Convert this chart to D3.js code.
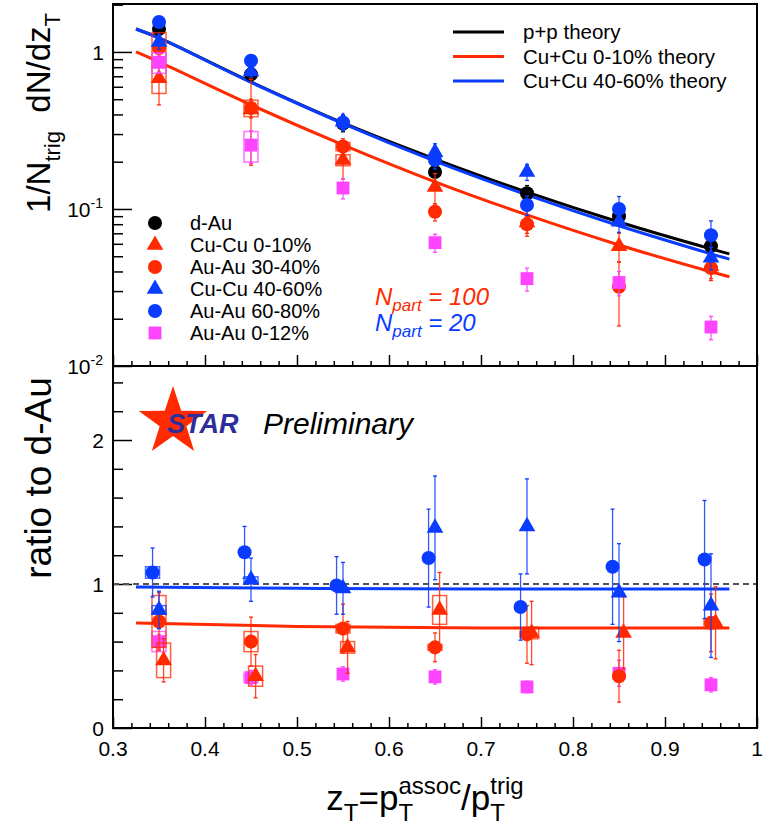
<!DOCTYPE html>
<meta charset="utf-8">
<script src="https://d3js.org/d3.v7.min.js"></script>
<style>
  body { margin: 0; background: #fff; }
  text { font-family: "Liberation Sans", Arial, Helvetica, sans-serif; }
</style>
<div id="chart"></div>
<script>
// z_T bins
const zT = [0.35, 0.45, 0.55, 0.65, 0.75, 0.85, 0.95];

// top panel: 1/Ntrig dN/dzT
const dAu      = [1.40, 0.72, 0.35, 0.172, 0.126, 0.090, 0.058];
const cuCu010  = [0.68, 0.43, 0.205, 0.138, 0.082, 0.058, 0.043];
const auAu3040 = [1.06, 0.44, 0.25, 0.096, 0.080, 0.032, 0.042];
const cuCu4060 = [1.16, 0.75, 0.36, 0.23, 0.172, 0.083, 0.049];
const auAu6080 = [1.55, 0.88, 0.355, 0.205, 0.106, 0.100, 0.068];
const auAu012  = [0.86, 0.255, 0.136, 0.061, 0.036, 0.034, 0.0177];

const dAuErr      = [0.10, 0.06, 0.04, 0.03, 0.015, 0.01, 0.006];
const cuCu010Err  = [0.22, 0.24, 0.05, 0.03, 0.015, 0.012, 0.008];
const auAu3040Err = [0.12, 0.06, 0.03, 0.012, 0.01, 0.014, 0.006];
const cuCu4060Err = [0.12, 0.06, 0.04, 0.03, 0.02, 0.012, 0.008];
const auAu6080Err = [0.12, 0.07, 0.04, 0.025, 0.015, 0.02, 0.016];
const auAu012Err  = [0.12, 0.06, 0.02, 0.008, 0.006, 0.006, 0.003];

// relative systematic box half-heights (0 = no box)
const cuCu010Sys  = [0.20, 0, 0.08, 0, 0, 0, 0];
const auAu3040Sys = [0.25, 0.12, 0.06, 0, 0, 0, 0];
const auAu012Sys  = [0.15, 0.22, 0, 0, 0, 0, 0];

// theory curves
const thX        = [0.325, 0.35, 0.45, 0.55, 0.65, 0.75, 0.85, 0.95, 0.97];
const ppTh       = [1.40, 1.228, 0.644, 0.353, 0.208, 0.128, 0.0826, 0.0557, 0.0518];
const cuCu010Th  = [1.0, 0.864, 0.460, 0.256, 0.149, 0.0917, 0.0590, 0.0398, 0.0370];
const cuCu4060Th = [1.40, 1.228, 0.640, 0.350, 0.202, 0.123, 0.0782, 0.0518, 0.0479];

// bottom panel: ratio to d-Au
const cuCu010R  = [0.47, 0.36, 0.56, 0.82, 0.66, 0.66, 0.73];
const auAu3040R = [0.74, 0.60, 0.69, 0.56, 0.65, 0.36, 0.73];
const cuCu4060R = [0.82, 1.03, 0.97, 1.39, 1.40, 0.94, 0.85];
const auAu6080R = [1.08, 1.22, 0.99, 1.18, 0.84, 1.12, 1.17];
const auAu012R  = [0.60, 0.35, 0.375, 0.355, 0.285, 0.38, 0.30];

const cuCu010RErr  = [0.15, 0.15, 0.18, 0.26, 0.22, 0.25, 0.25];
const auAu3040RErr = [0.20, 0.17, 0.17, 0.10, 0.20, 0.18, 0.20];
const cuCu4060RErr = [0.13, 0.15, 0.18, 0.36, 0.33, 0.34, 0.36];
const auAu6080RErr = [0.17, 0.18, 0.20, 0.34, 0.23, 0.40, 0.41];
const auAu012RErr  = [0.05, 0.05, 0.05, 0.05, 0.04, 0.09, 0.05];

const cuCu010RSys  = [0.12, 0.07, 0.04, 0.10, 0.04, 0, 0];
const auAu3040RSys = [0.18, 0.07, 0.03, 0.02, 0.02, 0, 0.02];
const cuCu4060RSys = [0.03, 0.02, 0, 0, 0, 0, 0];
const auAu6080RSys = [0.04, 0, 0, 0, 0, 0, 0];
const auAu012RSys  = [0.07, 0.03, 0, 0, 0, 0, 0];

const ratioThX    = [0.325, 0.5, 0.7, 0.97];
const cuCu010ThR  = [0.73, 0.705, 0.695, 0.695];
const cuCu4060ThR = [0.98, 0.97, 0.965, 0.965];

// axis ticks
const xMajor = [0.3, 0.4, 0.5, 0.6, 0.7, 0.8, 0.9, 1.0];
const xLabels = ["0.3", "0.4", "0.5", "0.6", "0.7", "0.8", "0.9", "1"];
const topMajor = [0.01, 0.1, 1];
const topLabels = [["10", "-2"], ["10", "-1"], ["1", ""]];
const botMajor = [0, 1, 2];

const RED = "#ff2a00", BLUE = "#0a3cff", MAG = "#ff44ff";

const W = 769, H = 829;
const L = 113, R = 757, T1 = 4, B1 = 366, T2 = 366, B2 = 728;

const svg = d3.select("#chart").append("svg")
  .attr("width", W).attr("height", H);

const x = d3.scaleLinear().domain([0.3, 1]).range([L, R]);
const yTop = d3.scaleLog().domain([0.01, 2.02]).range([B1, T1]);
const yBot = d3.scaleLinear().domain([0, 2.514]).range([B2, T2]);

const xMinor = d3.range(0.30, 1.0001, 0.02).map(v => +v.toFixed(2)).filter(v => !xMajor.some(m => Math.abs(m - v) < 1e-6));
const topMinor = [];
[0.01, 0.1, 1].forEach(d => { for (let k = 2; k <= 9; k++) if (d * k <= 2.02) topMinor.push(d * k); });
const botMinor = d3.range(0.2, 2.51, 0.2).map(v => +v.toFixed(1)).filter(v => v % 1 !== 0);

// ---------- axes ----------
function xTicks(yPos) {
  svg.append("g").attr("transform", `translate(0,${yPos})`)
    .call(d3.axisTop(x).tickValues(xMinor).tickSize(5).tickFormat(""));
  svg.append("g").attr("transform", `translate(0,${yPos})`)
    .call(d3.axisTop(x).tickValues(xMajor).tickSize(11).tickFormat(""));
}
xTicks(B1);
xTicks(B2);

svg.append("g").attr("transform", `translate(${L},0)`)
  .call(d3.axisRight(yTop).tickValues(topMinor).tickSize(10).tickFormat(""));
svg.append("g").attr("transform", `translate(${L},0)`)
  .call(d3.axisRight(yTop).tickValues(topMajor).tickSize(19).tickFormat(""));
svg.append("g").attr("transform", `translate(${L},0)`)
  .call(d3.axisRight(yBot).tickValues(botMinor).tickSize(10).tickFormat(""));
svg.append("g").attr("transform", `translate(${L},0)`)
  .call(d3.axisRight(yBot).tickValues(botMajor).tickSize(19).tickFormat(""));

svg.selectAll(".domain").remove();
svg.selectAll(".tick line").attr("stroke", "#000").attr("stroke-width", 1.5);

// x labels
svg.append("g").selectAll("text").data(xMajor).join("text")
  .attr("x", d => x(d)).attr("y", B2 + 28)
  .attr("text-anchor", "middle").attr("font-size", 21)
  .text((d, i) => xLabels[i]);

// top y labels
topMajor.forEach((v, i) => {
  const t = svg.append("text").attr("y", yTop(v) + 8).attr("font-size", 21).attr("text-anchor", "end");
  if (topLabels[i][1]) {
    t.attr("x", 103);
    t.append("tspan").text(topLabels[i][0]);
    t.append("tspan").attr("font-size", 14).attr("dy", -9).text(topLabels[i][1]);
  } else {
    t.attr("x", 104).text(topLabels[i][0]);
  }
});
// bottom y labels
svg.append("g").selectAll("text").data(botMajor).join("text")
  .attr("x", 104).attr("y", d => yBot(d) + 8)
  .attr("text-anchor", "end").attr("font-size", 21)
  .text(d => d);

// ---------- rich text helper (sub / sup pieces) ----------
function rich(g, parts, big, small) {
  let cx = 0;
  parts.forEach(p => {
    if (p.t !== undefined) {
      const el = g.append("text").attr("x", cx).attr("y", 0).attr("font-size", big)
        .attr("xml:space", "preserve").text(p.t);
      cx += el.node().getComputedTextLength();
    } else {
      let w = 0;
      if (p.sup) {
        const e = g.append("text").attr("x", cx).attr("y", -big * 0.45).attr("font-size", small).text(p.sup);
        w = Math.max(w, e.node().getComputedTextLength());
      }
      if (p.sub) {
        const e = g.append("text").attr("x", cx).attr("y", big * 0.3).attr("font-size", small).text(p.sub);
        w = Math.max(w, e.node().getComputedTextLength());
      }
      cx += w;
    }
  });
  return cx;
}

// x title
{
  const g = svg.append("g");
  const w = rich(g, [{t: "z"}, {sub: "T"}, {t: "=p"}, {sup: "assoc", sub: "T"}, {t: "/p"}, {sup: "trig", sub: "T"}], 35, 24);
  g.attr("transform", `translate(${425 - w / 2},810)`);
}
// top y title
{
  const g = svg.append("g");
  const w = rich(g, [{t: "1/N"}, {sub: "trig"}, {t: "\u00a0\u00a0dN/dz"}, {sub: "T"}], 33, 22);
  g.attr("transform", `translate(50,${113 + w / 2}) rotate(-90)`);
}
// bottom y title
{
  const g = svg.append("g");
  const w = rich(g, [{t: "ratio to d-Au"}], 37, 24);
  g.attr("transform", `translate(51,${478 + w / 2}) rotate(-90)`);
}

// ---------- plot contents ----------
svg.append("clipPath").attr("id", "ct").append("rect")
  .attr("x", L).attr("y", T1).attr("width", R - L).attr("height", B1 - T1);
svg.append("clipPath").attr("id", "cb").append("rect")
  .attr("x", L).attr("y", T2).attr("width", R - L).attr("height", B2 - T2);

const gTop = svg.append("g").attr("clip-path", "url(#ct)");
const gBot = svg.append("g").attr("clip-path", "url(#cb)");

// theory lines top
const lineTop = d3.line().x(d => x(d[0])).y(d => yTop(d[1])).curve(d3.curveCatmullRom);
[[ppTh, "#000"], [cuCu4060Th, BLUE], [cuCu010Th, RED]].forEach(([ys, c]) => {
  gTop.append("path").datum(thX.map((v, i) => [v, ys[i]]))
    .attr("d", lineTop).attr("fill", "none").attr("stroke", c).attr("stroke-width", 3);
});

// bottom dashed and theory
gBot.append("line").attr("x1", L).attr("x2", R).attr("y1", yBot(1)).attr("y2", yBot(1))
  .attr("stroke", "#555").attr("stroke-width", 2).attr("stroke-dasharray", "6,4");
const lineBot = d3.line().x(d => x(d[0])).y(d => yBot(d[1])).curve(d3.curveMonotoneX);
[[cuCu4060ThR, BLUE], [cuCu010ThR, RED]].forEach(([ys, c]) => {
  gBot.append("path").datum(ratioThX.map((v, i) => [v, ys[i]]))
    .attr("d", lineBot).attr("fill", "none").attr("stroke", c).attr("stroke-width", 3);
});

const symCircle = d3.symbol().type(d3.symbolCircle).size(155)();
const symTri = d3.symbol().type(d3.symbolTriangle).size(120)();
const symSq = d3.symbol().type(d3.symbolSquare).size(165)();

function drawSeries(g, y, vals, errs, sys, sysRel, color, sym, dx, minV) {
  const data = zT.map((z, i) => ({ z: z + dx, v: vals[i], e: errs[i], s: sys ? sys[i] : 0 }));
  // systematic boxes
  data.filter(d => d.s > 0).forEach(d => {
    const lo = sysRel ? d.v * (1 - d.s) : d.v - d.s;
    const hi = sysRel ? d.v * (1 + d.s) : d.v + d.s;
    g.append("rect").attr("x", x(d.z) - 7).attr("width", 14)
      .attr("y", y(hi)).attr("height", y(lo) - y(hi))
      .attr("fill", "none").attr("stroke", color).attr("stroke-opacity", 0.75).attr("stroke-width", 1.5);
  });
  // error bars
  data.forEach(d => {
    const lo = Math.max(d.v - d.e, minV), hi = d.v + d.e;
    g.append("line").attr("x1", x(d.z)).attr("x2", x(d.z)).attr("y1", y(lo)).attr("y2", y(hi))
      .attr("stroke", color).attr("stroke-width", 1.3).attr("stroke-opacity", 0.85);
    [lo, hi].forEach(t => g.append("line").attr("x1", x(d.z) - 2).attr("x2", x(d.z) + 2)
      .attr("y1", y(t)).attr("y2", y(t)).attr("stroke", color).attr("stroke-width", 1.3));
  });
  g.selectAll(null).data(data).join("path")
    .attr("d", sym).attr("fill", color)
    .attr("transform", d => `translate(${x(d.z)},${y(d.v)})`);
}

// top panel points
drawSeries(gTop, yTop, dAu, dAuErr, null, true, "#000", symCircle, 0, 0.011);
drawSeries(gTop, yTop, cuCu010, cuCu010Err, cuCu010Sys, true, RED, symTri, 0, 0.011);
drawSeries(gTop, yTop, auAu3040, auAu3040Err, auAu3040Sys, true, RED, symCircle, 0, 0.011);
drawSeries(gTop, yTop, cuCu4060, cuCu4060Err, null, true, BLUE, symTri, 0, 0.011);
drawSeries(gTop, yTop, auAu6080, auAu6080Err, null, true, BLUE, symCircle, 0, 0.011);
drawSeries(gTop, yTop, auAu012, auAu012Err, auAu012Sys, true, MAG, symSq, 0, 0.011);

// bottom panel points
drawSeries(gBot, yBot, auAu012R, auAu012RErr, auAu012RSys, false, MAG, symSq, 0, 0);
drawSeries(gBot, yBot, auAu3040R, auAu3040RErr, auAu3040RSys, false, RED, symCircle, 0, 0);
drawSeries(gBot, yBot, cuCu010R, cuCu010RErr, cuCu010RSys, false, RED, symTri, 0.005, 0);
drawSeries(gBot, yBot, auAu6080R, auAu6080RErr, auAu6080RSys, false, BLUE, symCircle, -0.007, 0);
drawSeries(gBot, yBot, cuCu4060R, cuCu4060RErr, cuCu4060RSys, false, BLUE, symTri, 0, 0);

// frames
[[T1, B1], [T2, B2]].forEach(([t, b]) => {
  svg.append("rect").attr("x", L).attr("y", t).attr("width", R - L).attr("height", b - t)
    .attr("fill", "none").attr("stroke", "#000").attr("stroke-width", 2);
});

// ---------- legends ----------
const theoryLeg = [["p+p theory", "#000"], ["Cu+Cu 0-10% theory", RED], ["Cu+Cu 40-60% theory", BLUE]];
theoryLeg.forEach(([lab, c], i) => {
  const yy = 32 + i * 24.5;
  svg.append("line").attr("x1", 453).attr("x2", 504).attr("y1", yy).attr("y2", yy)
    .attr("stroke", c).attr("stroke-width", 3);
  svg.append("text").attr("x", 523).attr("y", yy + 7).attr("font-size", 20.5).text(lab);
});

const dataLeg = [
  ["d-Au", "#000", symCircle],
  ["Cu-Cu 0-10%", RED, symTri],
  ["Au-Au 30-40%", RED, symCircle],
  ["Cu-Cu 40-60%", BLUE, symTri],
  ["Au-Au 60-80%", BLUE, symCircle],
  ["Au-Au 0-12%", MAG, symSq]
];
dataLeg.forEach(([lab, c, s], i) => {
  const yy = 223 + i * 22;
  svg.append("path").attr("d", s).attr("fill", c).attr("transform", `translate(155,${yy})`);
  svg.append("text").attr("x", 190).attr("y", yy + 7).attr("font-size", 20).text(lab);
});

// N_part annotations
[["100", RED, 305], ["20", BLUE, 331]].forEach(([n, c, yy]) => {
  const t = svg.append("text").attr("x", 375).attr("y", yy).attr("fill", c)
    .attr("font-size", 24).attr("font-style", "italic");
  t.append("tspan").text("N");
  t.append("tspan").attr("font-size", 17).attr("dy", 6).text("part");
  t.append("tspan").attr("dy", -6).text(" = " + n);
});

// STAR Preliminary
{
  const cx = 173, cy = 422, Ro = 36, Ri = 14;
  const pts = d3.range(10).map(k => {
    const a = -Math.PI / 2 + k * Math.PI / 5;
    const r = k % 2 ? Ri : Ro;
    return [cx + r * Math.cos(a), cy + r * Math.sin(a)];
  });
  svg.append("polygon").attr("points", pts.map(p => p.join(",")).join(" ")).attr("fill", RED);
  svg.append("text").attr("x", 167).attr("y", 433).attr("font-size", 27)
    .attr("font-weight", "bold").attr("font-style", "italic").attr("fill", "#2e2e9a").text("STAR");
  svg.append("text").attr("x", 263).attr("y", 434).attr("font-size", 30)
    .attr("font-style", "italic").attr("fill", "#000").text("Preliminary");
}
</script>
